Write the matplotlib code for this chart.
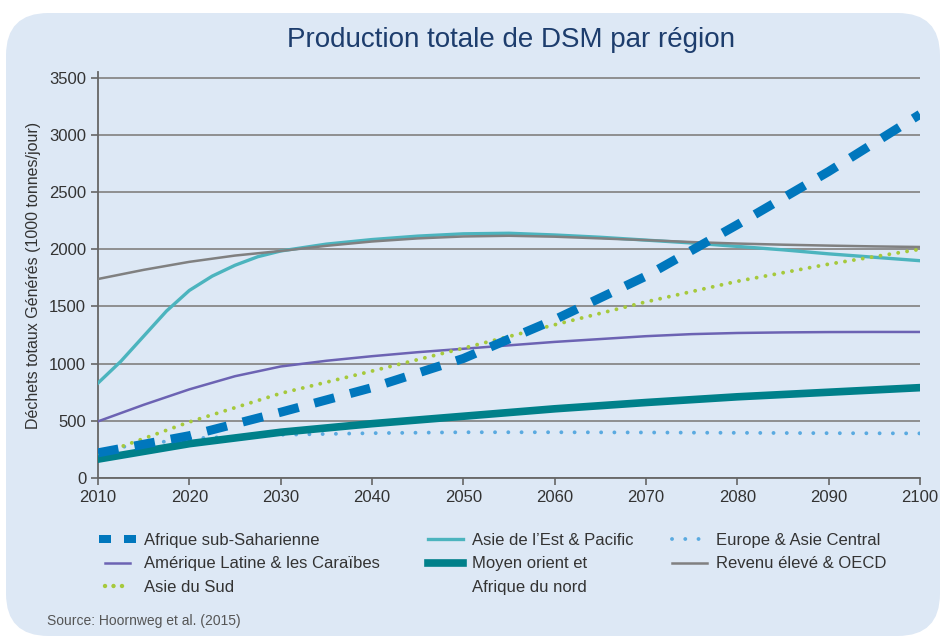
import matplotlib.pyplot as plt
from matplotlib.lines import Line2D
from matplotlib.patches import FancyBboxPatch

plt.rcParams['font.family'] = ['Liberation Sans', 'DejaVu Sans']

# data (1000 tonnes/jour)
years = [2010, 2020, 2030, 2040, 2050, 2060, 2070, 2080, 2090, 2100]
years_5 = [2010, 2015, 2020, 2025, 2030, 2035, 2040, 2045, 2050, 2055,
           2060, 2065, 2070, 2075, 2080, 2085, 2090, 2095, 2100]
years_est = [2010, 2012.5, 2015, 2017.5, 2020, 2022.5, 2025, 2027.5, 2030,
             2035, 2040, 2045, 2050, 2055, 2060, 2065, 2070, 2075, 2080,
             2085, 2090, 2095, 2100]

afrique_ss = [220, 370, 575, 790, 1045, 1385, 1765, 2215, 2680, 3180]
asie_est = [830, 1020, 1240, 1460, 1640, 1765, 1860, 1935, 1985,
            2045, 2085, 2115, 2135, 2140, 2125, 2105, 2080, 2055, 2025,
            1995, 1960, 1930, 1900]
revenu_eleve = [1740, 1820, 1890, 1945, 1985, 2030, 2068, 2095, 2112, 2118,
                2110, 2095, 2080, 2063, 2050, 2040, 2032, 2025, 2020]
amerique_lat = [495, 640, 775, 890, 975, 1025, 1065, 1100, 1130, 1160,
                1190, 1215, 1240, 1258, 1268, 1273, 1276, 1277, 1277]
asie_sud = [200, 490, 740, 935, 1135, 1340, 1540, 1720, 1870, 2000]
moyen_orient = [165, 300, 400, 475, 540, 605, 660, 710, 750, 790]
europe = [245, 345, 378, 392, 400, 400, 398, 395, 392, 390]

bg = '#dde8f5'
fig = plt.figure(figsize=(9.42, 6.39), dpi=100)
fig.patch.set_facecolor('white')
box = FancyBboxPatch((6 / 942, 1 - 636 / 639), 934 / 942, 623 / 639,
                     boxstyle='round,pad=0,rounding_size=0.045',
                     transform=fig.transFigure, facecolor=bg, edgecolor='none',
                     mutation_aspect=942 / 639, zorder=-5)
fig.patches.append(box)

ax = fig.add_axes([98 / 942, 1 - 478 / 639, 822 / 942, 406 / 639])
ax.set_facecolor(bg)

ax.plot(years, afrique_ss, color='#0077bd', lw=6.5, dashes=(2.3, 1.8),
        dash_capstyle='butt', label='Afrique sub-Saharienne', zorder=5)
ax.plot(years_5, amerique_lat, color='#6c63b3', lw=1.8,
        label='Amérique Latine & les Caraïbes', zorder=3)
ax.plot(years, asie_sud, color='#a6c93c', lw=2.8, dashes=(0.01, 2.3),
        dash_capstyle='round', label='Asie du Sud', zorder=4)
ax.plot(years_est, asie_est, color='#4cb4be', lw=2.4,
        label='Asie de l\u2019Est & Pacific', zorder=3)
ax.plot(years, moyen_orient, color='#00808a', lw=5.5,
        label='Moyen orient et', zorder=4)
ax.plot(years, europe, color='#5aaae0', lw=2.8, dashes=(0.01, 3.4),
        dash_capstyle='round', label='Europe & Asie Central', zorder=3)
ax.plot(years_5, revenu_eleve, color='#808080', lw=1.8,
        label='Revenu élevé & OECD', zorder=3)

ax.set_xlim(2010, 2100)
ax.set_ylim(0, 3550)
ax.set_xticks(range(2010, 2101, 10))
ax.set_yticks(range(0, 3501, 500))
ax.yaxis.grid(True, color='#888888', lw=1.3)
ax.set_axisbelow(True)
for s in ['top', 'right']:
    ax.spines[s].set_visible(False)
for s in ['left', 'bottom']:
    ax.spines[s].set_color('#666666')
    ax.spines[s].set_linewidth(1.3)
ax.tick_params(colors='#666666', labelcolor='#333333', labelsize=12,
               length=5, width=1.2)
ax.set_ylabel('Déchets totaux Générés (1000 tonnes/jour)', fontsize=11.5,
              color='#333333', labelpad=6)

fig.text(511 / 942, 1 - 40 / 639, 'Production totale de DSM par région',
         ha='center', va='center', fontsize=20, color='#1d3d6d')
fig.text(47 / 942, 1 - 621 / 639, 'Source: Hoornweg et al. (2015)',
         ha='left', va='center', fontsize=10, color='#555555')

h, l = ax.get_legend_handles_labels()
# legend keys: two blue blocks / finer dots as in the source legend
block = [(-1, -0.6), (1, -0.6), (1, 0.6), (-1, 0.6), (-1, -0.6)]
h[0] = Line2D([], [], ls='none', marker=block, markersize=8.5,
              color='#0077bd', markeredgewidth=0)
h[2] = Line2D([], [], color='#a6c93c', lw=3.2, dashes=(0.01, 1.9),
              dash_capstyle='round')
# second line of the "Moyen orient" label as a key-less row
h.insert(5, Line2D([], [], color='none'))
l.insert(5, 'Afrique du nord')
kw = dict(frameon=False, fontsize=12, handlelength=2.1, handletextpad=0.55,
          labelspacing=0.5, labelcolor='#333333', borderaxespad=0, borderpad=0)
leg1 = fig.legend(h[0:3], l[0:3], loc='upper left', numpoints=2,
                  bbox_to_anchor=(100 / 942, 1 - 533 / 639), **kw)
leg2 = fig.legend(h[3:6], l[3:6], loc='upper left',
                  bbox_to_anchor=(428 / 942, 1 - 533 / 639), **kw)
leg3 = fig.legend(h[6:8], l[6:8], loc='upper left',
                  bbox_to_anchor=(672 / 942, 1 - 533 / 639), **kw)

fig.savefig('out.png', dpi=100, facecolor='white')
